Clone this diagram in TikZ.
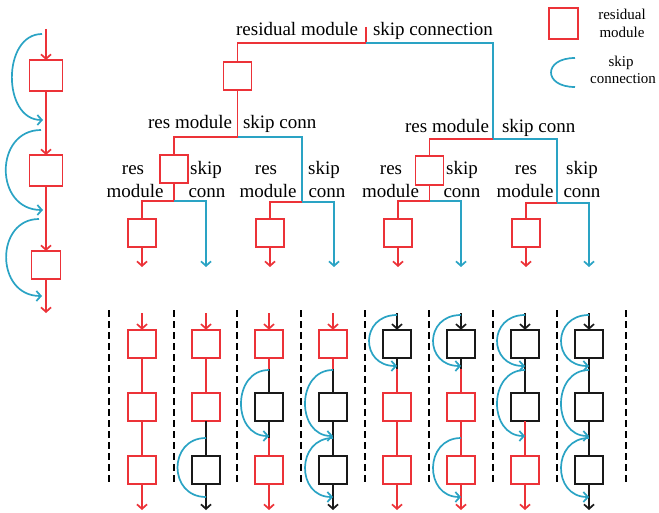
\documentclass[tikz,border=0pt]{standalone}
\usepackage{fontspec}
\setmainfont{Liberation Serif}
\usetikzlibrary{arrows.meta}
\definecolor{cR}{RGB}{236,50,56}
\definecolor{cB}{RGB}{42,163,196}
\definecolor{cK}{RGB}{25,25,25}
\begin{document}
\begin{tikzpicture}[x=1pt,y=-1pt,
  every node/.style={inner sep=0pt,outer sep=0pt},
  ln/.style={line width=1.7pt},
  arr/.style={line width=1.7pt,-{Straight Barb[length=4.5pt,width=10pt]}},
  box/.style={draw=#1,line width=1.7pt,minimum width=28pt,minimum height=28.5pt},
  skiparr/.style={draw=cB,line width=1.7pt,-{Straight Barb[length=4.5pt,width=10pt]}},
  skipplain/.style={draw=cB,line width=1.7pt},
  lbl/.style={font=\fontsize{19}{22}\selectfont,anchor=base},
  leg/.style={font=\fontsize{15}{18}\selectfont,anchor=base},
  sepline/.style={draw=black,line width=2pt,dash pattern=on 7pt off 4pt}]
\useasboundingbox (0,0) rectangle (659,513);

% ---------- left chain ----------
\node[box=cR,minimum width=33pt,minimum height=31pt] (l1) at (46,75.5) {};
\node[box=cR,minimum width=33pt,minimum height=31pt] (l2) at (46,170.5) {};
\node[box=cR,minimum width=29pt,minimum height=28pt] (l3) at (46,265) {};
\coordinate (l0) at (46,29);
\coordinate (lz) at (46,313);
\draw[arr,cR] (l0) -- (l1.north);
\draw[arr,cR] (l1.south) -- (l2.north);
\draw[arr,cR] (l2.south) -- (l3.north);
\draw[arr,cR] (l3.south) -- (lz);
\coordinate (ls1) at (42,34);  \coordinate (le1) at (43,120);
\coordinate (ls2) at (41,130); \coordinate (le2) at (43,210);
\coordinate (ls3) at (39,219); \coordinate (le3) at (42,296);
\draw[skiparr] (ls1) .. controls +(-40,0) and +(-41,0) .. (le1);
\draw[skiparr] (ls2) .. controls +(-47,0) and +(-49,0) .. (le2);
\draw[skiparr] (ls3) .. controls +(-44,0) and +(-47,0) .. (le3);

% ---------- legend ----------
\node[box=cR,minimum width=29.5pt,minimum height=31.5pt] (legbox) at (563.5,23.5) {};
\node[leg] (legt1) at (622,19.5) {residual};
\node[leg] (legt2) at (622,37.7) {module};
\coordinate (legs) at (575,58);
\coordinate (lege) at (575,87);
\draw[skipplain] (legs) .. controls +(-32,0) and +(-32,0) .. (lege);
\node[leg] (legt3) at (621,67) {skip};
\node[leg] (legt4) at (623,84) {connection};

% ---------- top tree ----------
\coordinate (r0) at (366,27);
\coordinate (r1) at (366,43);
\node[box=cR] (t1) at (237.5,76) {};
\draw[ln,cR] (r0) -- (r1) -| (t1.north);
\coordinate (sR) at (493,139);
\draw[ln,cB] (r1) -| (sR);
\node[lbl,anchor=base east] (lab1) at (358,36) {residual module};
\node[lbl,anchor=base west] (lab2) at (373,36) {skip connection};

\coordinate (sL) at (237.5,137);
\draw[ln,cR] (t1.south) -- (sL);
\node[box=cR] (t2a) at (174,169) {};
\draw[ln,cR] (sL) -| (t2a.north);
\coordinate (sLB) at (302,202);
\draw[ln,cB] (sL) -| (sLB);
\node[lbl,anchor=base east] (lab3) at (232,129) {res module};
\node[lbl,anchor=base west] (lab4) at (243,129) {skip conn};

\node[box=cR] (t2b) at (429.5,170.5) {};
\draw[ln,cR] (sR) -| (t2b.north);
\coordinate (sRB) at (557,203);
\draw[ln,cB] (sR) -| (sRB);
\node[lbl,anchor=base east] (lab5) at (489,133) {res module};
\node[lbl,anchor=base west] (lab6) at (502,133) {skip conn};

% level 3
\coordinate (u1) at (174,201);
\draw[ln,cR] (t2a.south) -- (u1);
\node[box=cR] (t3a) at (142,233) {};
\draw[ln,cR] (u1) -| (t3a.north);
\coordinate (a1) at (142,267);
\draw[arr,cR] (t3a.south) -- (a1);
\coordinate (a2) at (206,267);
\draw[arr,cB] (u1) -| (a2);

\node[box=cR] (t3b) at (270,233) {};
\draw[ln,cR] (sLB) -| (t3b.north);
\coordinate (a3) at (270,267);
\draw[arr,cR] (t3b.south) -- (a3);
\coordinate (a4) at (334,267);
\draw[arr,cB] (sLB) -| (a4);

\coordinate (u2) at (429.5,201);
\draw[ln,cR] (t2b.south) -- (u2);
\node[box=cR] (t3c) at (398,233) {};
\draw[ln,cR] (u2) -| (t3c.north);
\coordinate (a5) at (398,267);
\draw[arr,cR] (t3c.south) -- (a5);
\coordinate (a6) at (461,267);
\draw[arr,cB] (u2) -| (a6);

\node[box=cR] (t3d) at (526,233) {};
\draw[ln,cR] (sRB) -| (t3d.north);
\coordinate (a7) at (526,267);
\draw[arr,cR] (t3d.south) -- (a7);
\coordinate (a8) at (589,267);
\draw[arr,cB] (sRB) -| (a8);

\node[lbl] (r3a) at (133,175) {res};
\node[lbl] (m3a) at (135,198) {module};
\node[lbl] (s3a) at (206,175) {skip};
\node[lbl] (c3a) at (207,198) {conn};
\node[lbl] (r3b) at (266,175) {res};
\node[lbl] (m3b) at (268,198) {module};
\node[lbl] (s3b) at (324,175) {skip};
\node[lbl] (c3b) at (327,198) {conn};
\node[lbl] (r3c) at (391,175) {res};
\node[lbl] (m3c) at (390.5,198) {module};
\node[lbl] (s3c) at (462,175) {skip};
\node[lbl] (c3c) at (462,198) {conn};
\node[lbl] (r3d) at (526,175) {res};
\node[lbl] (m3d) at (525,198) {module};
\node[lbl] (s3d) at (582,175) {skip};
\node[lbl] (c3d) at (582,198) {conn};

% ---------- bottom panel ----------
\foreach \x in {109,174,237,301,365,429,493,557,626}
  \draw[sepline] (\x,310) -- (\x,485);

\foreach \i/\cx/\ba/\bb/\bc/\sa/\sb/\sc/\sd/\se/\sf in {
 1/142/cR/cR/cR/cR/cR/cR/cR/cR/cR,
 2/206/cR/cR/cK/cR/cR/cR/cK/cK/cK,
 3/269/cR/cK/cR/cR/cR/cK/cK/cR/cR,
 4/333/cR/cK/cK/cR/cR/cK/cK/cK/cK,
 5/397/cK/cR/cR/cK/cK/cR/cR/cR/cR,
 6/461/cK/cR/cR/cK/cK/cR/cR/cR/cR,
 7/525/cK/cK/cR/cK/cK/cK/cR/cR/cR,
 8/589/cK/cK/cK/cK/cK/cK/cK/cK/cK}
{
 \node[box=\ba] (c\i b1) at (\cx,344) {};
 \node[box=\bb] (c\i b2) at (\cx,407) {};
 \node[box=\bc] (c\i b3) at (\cx,470) {};
 \coordinate (c\i t) at (\cx,313);
 \coordinate (c\i m1) at (\cx,369);
 \coordinate (c\i m2) at (\cx,438);
 \coordinate (c\i e) at (\cx,510);
 \coordinate (c\i k1s) at (\cx,315);
 \coordinate (c\i k1e) at (\cx,366);
 \coordinate (c\i k2s) at (\cx,370);
 \coordinate (c\i k2e) at (\cx,436);
 \coordinate (c\i k3s) at (\cx,438);
 \coordinate (c\i k3e) at (\cx,497);
 \draw[arr,draw=\sa] (c\i t) -- (c\i b1.north);
 \draw[ln,draw=\sb] (c\i b1.south) -- (c\i m1);
 \draw[ln,draw=\sc] (c\i m1) -- (c\i b2.north);
 \draw[ln,draw=\sd] (c\i b2.south) -- (c\i m2);
 \draw[ln,draw=\se] (c\i m2) -- (c\i b3.north);
 \draw[arr,draw=\sf] (c\i b3.south) -- (c\i e);
}

\draw[skipplain] (c2k3s) .. controls +(-38,0) and +(-38,0) .. (c2k3e);
\foreach \i/\k in {3/2,4/2,4/3,5/1,6/1,6/3,7/1,7/2,8/1,8/2,8/3}
  \draw[skiparr] (c\i k\k s) .. controls +(-37,0) and +(-37,0) .. (c\i k\k e);
\end{tikzpicture}
\end{document}
